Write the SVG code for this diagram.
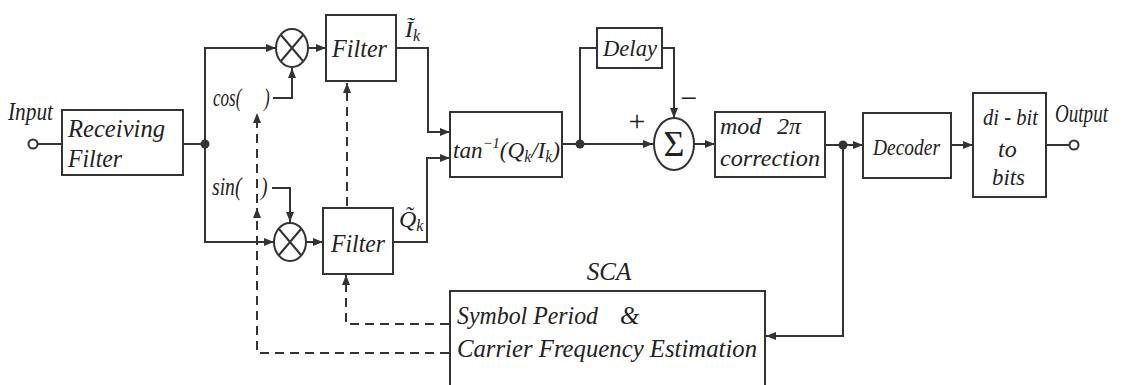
<svg xmlns="http://www.w3.org/2000/svg" width="1124" height="385" viewBox="0 0 1124 385">
<defs>
<marker id="ar" markerUnits="userSpaceOnUse" markerWidth="11" markerHeight="9" refX="10" refY="4.5" orient="auto"><path d="M0,0.5 L10,4.5 L0,8.5 z" fill="#333"/></marker>
<style>
.b{fill:#fff;stroke:#333;stroke-width:2}
.l{fill:none;stroke:#333;stroke-width:2}
.d{fill:none;stroke:#333;stroke-width:2;stroke-dasharray:9 6}
.t{font-family:"Liberation Serif","DejaVu Serif",serif;font-style:italic;fill:#222}
.u{font-family:"Liberation Serif","DejaVu Serif",serif;fill:#222}
.dot{fill:#333}
</style>
</defs>
<rect width="1124" height="385" fill="#fff"/>
<g id="connectors">
<path class="l" d="M37,144 H62"/>
<path class="l" d="M183,144 H205"/>
<path class="l" d="M205,144 V48 H276" marker-end="url(#ar)"/>
<path class="l" d="M205,144 V242 H274" marker-end="url(#ar)"/>
<path class="l" d="M273,98 H292 V68" marker-end="url(#ar)"/>
<path class="l" d="M272,188 H290 V222" marker-end="url(#ar)"/>
<path class="l" d="M308,48 H326" marker-end="url(#ar)"/>
<path class="l" d="M306,242 H323" marker-end="url(#ar)"/>
<path class="l" d="M396,48 H428 V132 H450" marker-end="url(#ar)"/>
<path class="l" d="M393,242 H427 V158 H450" marker-end="url(#ar)"/>
<path class="l" d="M562,144 H653" marker-end="url(#ar)"/>
<path class="l" d="M580,144 V48 H597"/>
<path class="l" d="M662,48 H674 V118" marker-end="url(#ar)"/>
<path class="l" d="M694,144 H715" marker-end="url(#ar)"/>
<path class="l" d="M825,145 H863" marker-end="url(#ar)"/>
<path class="l" d="M951,145 H973" marker-end="url(#ar)"/>
<path class="l" d="M1046,145 H1070"/>
<path class="l" d="M843,145 V336 H766" marker-end="url(#ar)"/>
<path class="d" d="M449,324 H346 V275" marker-end="url(#ar)"/>
<path class="d" d="M449,353 H257 V208" marker-end="url(#ar)"/>
<path class="d" d="M257,203 V113" marker-end="url(#ar)"/>
<path class="d" d="M347,206 V83" marker-end="url(#ar)"/>
<circle class="dot" cx="205" cy="144" r="4.5"/>
<circle class="dot" cx="580" cy="144" r="4.5"/>
<circle class="dot" cx="843" cy="145" r="4.5"/>
</g>
<g id="input">
<circle cx="33" cy="144" r="4.5" fill="#fff" stroke="#333" stroke-width="2"/>
<text class="t" x="8" y="120" font-size="26" textLength="45" lengthAdjust="spacingAndGlyphs">Input</text>
</g>
<g id="receiving-filter">
<rect class="b" x="62" y="110" width="121" height="65"/>
<text class="t" x="68" y="137" font-size="26" textLength="97" lengthAdjust="spacingAndGlyphs">Receiving</text>
<text class="t" x="68" y="167" font-size="26" textLength="54" lengthAdjust="spacingAndGlyphs">Filter</text>
</g>
<g id="mult-cos">
<ellipse class="b" cx="292" cy="48" rx="16" ry="19"/>
<path class="l" d="M281,35 L303,61 M303,35 L281,61"/>
</g>
<g id="mult-sin">
<ellipse class="b" cx="290" cy="242" rx="16" ry="19"/>
<path class="l" d="M279,229 L301,255 M301,229 L279,255"/>
</g>
<g id="cos">
<text class="t" x="213" y="106" font-size="26" textLength="34" lengthAdjust="spacingAndGlyphs">cos(<tspan x="264">)</tspan></text>
</g>
<g id="sin">
<text class="t" x="212" y="195" font-size="26" textLength="36" lengthAdjust="spacingAndGlyphs">sin(<tspan x="261">)</tspan></text>
</g>
<g id="filter-i">
<rect class="b" x="326" y="15" width="70" height="66"/>
<text class="t" x="332" y="57" font-size="25" textLength="55" lengthAdjust="spacingAndGlyphs">Filter</text>
<text class="t" x="405" y="37" font-size="24">I&#x303;<tspan font-size="16" dy="4">k</tspan></text>
</g>
<g id="filter-q">
<rect class="b" x="323" y="208" width="70" height="66"/>
<text class="t" x="331" y="252" font-size="25" textLength="54" lengthAdjust="spacingAndGlyphs">Filter</text>
<text class="t" x="399" y="227" font-size="24">Q&#x303;<tspan font-size="16" dy="4">k</tspan></text>
</g>
<g id="arctan">
<rect class="b" x="450" y="112" width="112" height="65"/>
<text class="t" x="453" y="158" font-size="24" textLength="107" lengthAdjust="spacingAndGlyphs">tan<tspan font-size="15" dy="-10">−1</tspan><tspan dy="10">(Q</tspan><tspan font-size="16" dy="4">k</tspan><tspan dy="-4">/I</tspan><tspan font-size="16" dy="4">k</tspan><tspan dy="-4">)</tspan></text>
</g>
<g id="delay">
<rect class="b" x="597" y="28" width="65" height="40"/>
<text class="t" x="603" y="56" font-size="24" textLength="54" lengthAdjust="spacingAndGlyphs">Delay</text>
</g>
<g id="sum">
<ellipse class="b" cx="674" cy="144" rx="20" ry="26"/>
<text class="u" x="674" y="156" font-size="36" text-anchor="middle">Σ</text>
<text class="u" x="637" y="131" font-size="30" text-anchor="middle">+</text>
<text class="u" x="689" y="108" font-size="30" text-anchor="middle">−</text>
</g>
<g id="mod">
<rect class="b" x="715" y="112" width="110" height="65"/>
<text class="t" x="720" y="134" font-size="24">mod<tspan x="777">2π</tspan></text>
<text class="t" x="720" y="166" font-size="24" textLength="100" lengthAdjust="spacingAndGlyphs">correction</text>
</g>
<g id="decoder">
<rect class="b" x="863" y="113" width="88" height="65"/>
<text class="t" x="873" y="155" font-size="24" textLength="67" lengthAdjust="spacingAndGlyphs">Decoder</text>
</g>
<g id="dibit">
<rect class="b" x="973" y="93" width="73" height="104"/>
<text class="t" x="983" y="125" font-size="24" textLength="55" lengthAdjust="spacingAndGlyphs">di - bit</text>
<text class="t" x="998" y="157" font-size="24">to</text>
<text class="t" x="992" y="185" font-size="24" textLength="33" lengthAdjust="spacingAndGlyphs">bits</text>
</g>
<g id="output">
<circle cx="1074" cy="145" r="4.5" fill="#fff" stroke="#333" stroke-width="2"/>
<text class="t" x="1055" y="122" font-size="25" textLength="53" lengthAdjust="spacingAndGlyphs">Output</text>
</g>
<g id="sca">
<text class="t" x="609" y="280" font-size="25" text-anchor="middle">SCA</text>
<rect class="b" x="450" y="291" width="315" height="110"/>
<text class="t" x="457" y="324" font-size="25" textLength="141" lengthAdjust="spacingAndGlyphs">Symbol Period</text>
<text class="t" x="620" y="324" font-size="25">&amp;</text>
<text class="t" x="457" y="357" font-size="25" textLength="300" lengthAdjust="spacingAndGlyphs">Carrier Frequency Estimation</text>
</g>
</svg>
